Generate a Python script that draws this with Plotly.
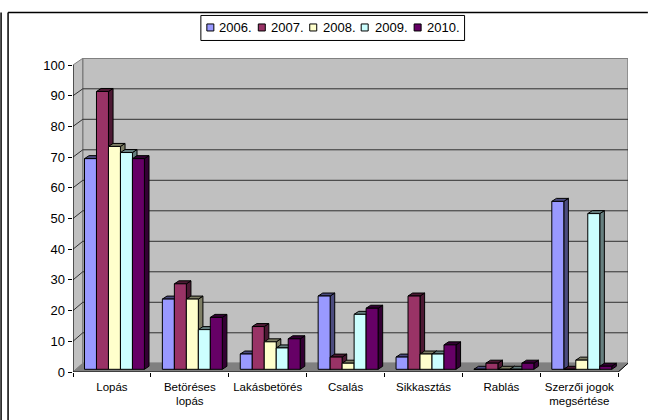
import plotly.graph_objects as go

categories = ["Lopás", "Betöréses<br>lopás", "Lakásbetörés", "Csalás", "Sikkasztás", "Rablás", "Szerzői jogok<br>megsértése"]
series_names = ["2006.", "2007.", "2008.", "2009.", "2010."]
v2006 = [69, 23, 5, 24, 4, 0, 55]
v2007 = [91, 28, 14, 4, 24, 2, 0]
v2008 = [73, 23, 9, 2, 5, 0, 3]
v2009 = [71, 13, 7, 18, 5, 0, 51]
v2010 = [69, 17, 10, 20, 8, 2, 1]
series_values = [v2006, v2007, v2008, v2009, v2010]
front_colors = ["#9999FF", "#993366", "#FFFFCC", "#CCFFFF", "#660066"]
shade_colors = ["#4C4C7F", "#4C1933", "#7F7F66", "#667F7F", "#330033"]
y_ticks = list(range(0, 101, 10))

W, H = 648, 420
X0, X1, Y0, Y100 = 72.5, 618.3, 371.7, 65.0   # pixel frame of the front plane
DX = 9.8                                      # depth of the box, px
WALL_BOTTOM, WALL_TOP = 363.0, 58.3           # pixel extent of the back wall
PX = (X1 - X0) / 7                            # px per category
PY = (Y0 - Y100) / 100                        # px per unit

def xu(px):
    return px / PX

def yu(px):
    return px / PY

x_lo, x_hi = -0.5, 6.5 + xu(DX)
y_lo, y_hi = 0, (Y0 - WALL_TOP + 0.3) / PY
PLOT_L, PLOT_R, PLOT_T, PLOT_B = X0, X1 + DX, WALL_TOP - 0.3, Y0

fig = go.Figure()

def poly(xs, ys, fill, line=None, width=1):
    fig.add_trace(go.Scatter(x=xs, y=ys, mode="lines", fill="toself" if fill else None,
                             fillcolor=fill, line=dict(color=line or "rgba(0,0,0,0)", width=width),
                             hoverinfo="skip", showlegend=False, cliponaxis=False))

ddx = xu(DX)
def back_y(t):
    return yu(Y0 - WALL_BOTTOM) + t * ((WALL_BOTTOM - WALL_TOP) / 100) / PY

# side wall, back wall, floor
poly([x_lo, x_lo + ddx, x_lo + ddx, x_lo, x_lo], [0, back_y(0), back_y(100), 100, 0], "#C0C0C0", "#808080")
poly([x_lo + ddx, x_hi, x_hi, x_lo + ddx, x_lo + ddx],
     [back_y(0), back_y(0), back_y(100), back_y(100), back_y(0)], "#C0C0C0", "#808080", 1.5)
# gridlines
for t in y_ticks[1:-1]:
    poly([x_lo, x_lo + ddx, x_hi], [t, back_y(t), back_y(t)], None, "#303030")
poly([x_lo, x_lo + ddx, x_hi, 6.5, x_lo], [0, back_y(0), back_y(0), 0, 0], "#808080", "#808080")

# bars
bar_w = 12 / PX
group_start = 11.5 / PX
base = yu(2.7)
sx, sy = xu(4.6), yu(3.0)
for s, vals in enumerate(series_values):
    sidex, sidey, topx, topy, fx, fy = [], [], [], [], [], []
    for c, v in enumerate(vals):
        l = c - 0.5 + group_start + s * bar_w
        r = l + bar_w
        t = v * (3.05 / PY) + base
        sidex += [r, r + sx, r + sx, r, r, None]
        sidey += [base, base + sy, t + sy, t, base, None]
        topx += [l, l + sx, r + sx, r, l, None]
        topy += [t, t + sy, t + sy, t, t, None]
        fx += [l, r, r, l, l, None]
        fy += [base, base, t, t, base, None]
    poly(sidex, sidey, shade_colors[s], "#000000")
    poly(topx, topy, shade_colors[s], "#000000")
    poly(fx, fy, front_colors[s], "#000000")

# axis lines
poly([x_lo, x_lo], [0, 100], None, "#000000")
poly([x_lo, 6.5, x_hi], [0, 0, back_y(0)], None, "#000000")

def paper_x(p):
    return (p - PLOT_L) / (PLOT_R - PLOT_L)

def paper_y(p):
    return (PLOT_B - p) / (PLOT_B - PLOT_T)

shapes = []
def page_line(x0, y0, x1, y1, w=1.5):
    shapes.append(dict(type="line", xref="paper", yref="paper",
                       x0=paper_x(x0), y0=paper_y(y0), x1=paper_x(x1), y1=paper_y(y1),
                       line=dict(color="#000000", width=w)))

# outer frame lines
page_line(7.5, 12.5, 648, 12.5)
page_line(7.5, 12.5, 7.5, 420)
page_line(0.5, 12.5, 0.5, 420)

# legend box and entries
shapes.append(dict(type="rect", xref="paper", yref="paper",
                   x0=paper_x(200.5), x1=paper_x(464.5), y0=paper_y(15.5), y1=paper_y(40.5),
                   fillcolor="#FFFFFF", line=dict(color="#000000", width=1)))
annotations = []
swatch_x = [206.5, 258, 309.5, 361, 414]
text_x = [218, 270, 322, 374, 425.5]
for i, name in enumerate(series_names):
    shapes.append(dict(type="rect", xref="paper", yref="paper",
                       x0=paper_x(swatch_x[i]), x1=paper_x(swatch_x[i] + 7),
                       y0=paper_y(24), y1=paper_y(31),
                       fillcolor=front_colors[i], line=dict(color="#000000", width=1)))
    annotations.append(dict(text=name, xref="paper", yref="paper", showarrow=False,
                            x=paper_x(text_x[i]), y=paper_y(27.5), xanchor="left", yanchor="middle",
                            xshift=-1, font=dict(size=13, color="#000000")))

fig.update_layout(
    width=W, height=H, autosize=False, showlegend=False,
    paper_bgcolor="#FFFFFF", plot_bgcolor="#FFFFFF",
    margin=dict(l=PLOT_L, r=W - PLOT_R, t=PLOT_T, b=H - PLOT_B, pad=0),
    font=dict(family="Liberation Sans, Arial, sans-serif", size=12, color="#000000"),
    shapes=shapes, annotations=annotations,
    xaxis=dict(range=[x_lo, x_hi], showgrid=False, zeroline=False, showline=False,
               tickmode="array", tickvals=list(range(7)), ticktext=categories, ticks="",
               tickfont=dict(size=11.5), ticklabelstandoff=6,
               minor=dict(tickmode="array", tickvals=[i - 0.5 for i in range(8)], ticks="outside",
                          ticklen=4, tickcolor="#000000", tickwidth=1, showgrid=False)),
    yaxis=dict(range=[y_lo, y_hi], showgrid=False, zeroline=False, showline=False,
               tickmode="array", tickvals=y_ticks, ticks="outside", ticklen=4.5,
               tickcolor="#000000", tickwidth=1, tickfont=dict(size=13)),
)
fig.write_html("out.html", config={"displayModeBar": False},
               post_script="document.body.style.margin='0';document.body.style.overflow='hidden';")
